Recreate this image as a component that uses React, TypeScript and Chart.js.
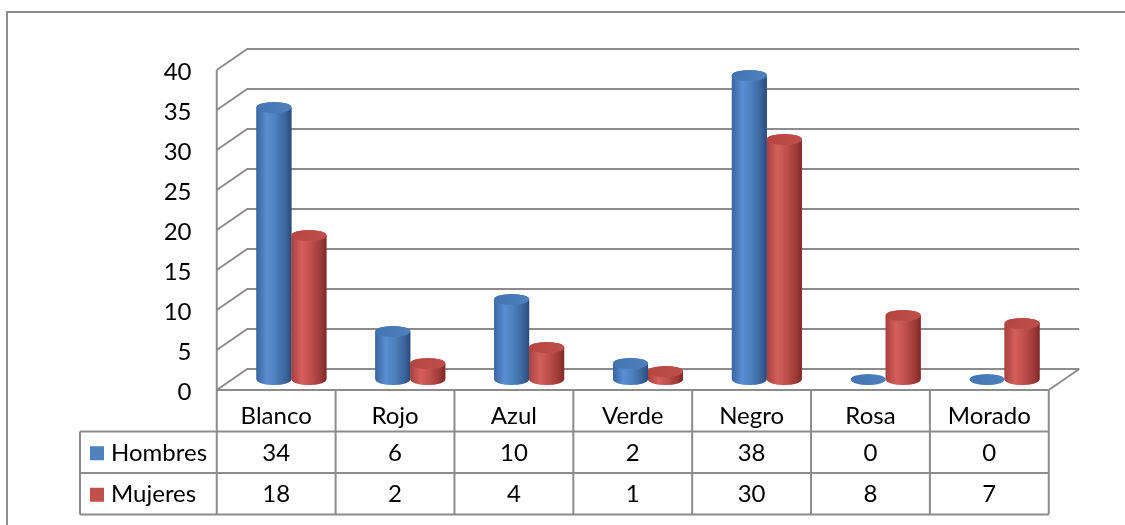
import React, { useEffect, useRef } from "react";
import { Chart, registerables } from "chart.js";

Chart.register(...registerables);

const categories = ["Blanco", "Rojo", "Azul", "Verde", "Negro", "Rosa", "Morado"];
const hombres = [34, 6, 10, 2, 38, 0, 0];
const mujeres = [18, 2, 4, 1, 30, 8, 7];
const seriesNames = ["Hombres", "Mujeres"];
const seriesColors = ["#4F81BD", "#C0504D"];
const yMin = 0;
const yMax = 40;
const yStep = 5;

const W = 1125;
const H = 525;
const DX = 15.25; // half depth offset (x)
const DY = 10.5; // half depth offset (y)
const FONT = "Lato, 'Open Sans', sans-serif";
const FSIZE = 24;
const LINE = "#8c8c8c";

const gradStops: Record<string, [number, string][]> = {
  "#4F81BD": [
    [0, "#3A66A2"],
    [0.3, "#5B8ED1"],
    [0.55, "#4D80BE"],
    [0.85, "#3A6299"],
    [1, "#2A4A7C"],
  ],
  "#C0504D": [
    [0, "#A7413E"],
    [0.3, "#D45F5B"],
    [0.55, "#C0504D"],
    [0.85, "#9B3936"],
    [1, "#7C2B29"],
  ],
};
const topColors: Record<string, string> = {
  "#4F81BD": "#4274B3",
  "#C0504D": "#B7433F",
};

function drawCylinder(ctx: CanvasRenderingContext2D, x: number, top: number, base: number, w: number, color: string) {
  const rx = w / 2;
  const ry = 5.5;
  const l = x - rx;
  const r = x + rx;
  if (base - top > 0.5) {
    const g = ctx.createLinearGradient(l, 0, r, 0);
    for (const [o, c] of gradStops[color]) g.addColorStop(o, c);
    ctx.beginPath();
    ctx.moveTo(l, top);
    ctx.lineTo(l, base);
    ctx.ellipse(x, base, rx, ry, 0, Math.PI, 0, true);
    ctx.lineTo(r, top);
    ctx.ellipse(x, top, rx, ry, 0, 0, Math.PI, true);
    ctx.closePath();
    ctx.fillStyle = g;
    ctx.fill();
  }
  const tg = ctx.createLinearGradient(l, top - ry, r, top + ry);
  tg.addColorStop(0, topColors[color]);
  tg.addColorStop(1, color);
  ctx.beginPath();
  ctx.ellipse(x, top, rx, ry, 0, 0, Math.PI * 2);
  ctx.fillStyle = tg;
  ctx.fill();
}

const wallsPlugin = {
  id: "walls3d",
  beforeDatasetsDraw(chart: any) {
    const ctx: CanvasRenderingContext2D = chart.ctx;
    const ys = chart.scales.y;
    const { left, right } = chart.chartArea;
    ctx.save();
    ctx.strokeStyle = LINE;
    ctx.lineWidth = 2;
    ctx.lineCap = "butt";
    for (let v = yMin; v <= yMax; v += yStep) {
      const p = ys.getPixelForValue(v);
      ctx.beginPath();
      ctx.moveTo(left - DX, p + DY);
      ctx.lineTo(left + DX, p - DY);
      ctx.lineTo(right + DX, p - DY);
      ctx.stroke();
    }
    const pTop = ys.getPixelForValue(yMax);
    const p0 = ys.getPixelForValue(yMin);
    ctx.beginPath();
    ctx.moveTo(left - DX, pTop + DY);
    ctx.lineTo(left - DX, p0 + DY);
    ctx.stroke();
    ctx.beginPath();
    ctx.moveTo(right - DX, p0 + DY);
    ctx.lineTo(right + DX, p0 - DY);
    ctx.stroke();
    ctx.restore();
  },
  afterDatasetsDraw(chart: any) {
    const ctx: CanvasRenderingContext2D = chart.ctx;
    ctx.save();
    chart.data.datasets.forEach((ds: any, di: number) => {
      const meta = chart.getDatasetMeta(di);
      meta.data.forEach((el: any) => {
        const { x, y, base, width } = el.getProps(["x", "y", "base", "width"], true);
        drawCylinder(ctx, x, y, base, width, ds.backgroundColor);
      });
    });
    ctx.restore();
  },
  afterDraw(chart: any) {
    const ctx: CanvasRenderingContext2D = chart.ctx;
    const xs = chart.scales.x;
    const ys = chart.scales.y;
    const { left, right } = chart.chartArea;
    const fl = left - DX;
    const fr = right - DX;
    const binW = xs.getPixelForValue(1) - xs.getPixelForValue(0);
    const tTop = ys.getPixelForValue(0) + DY;
    const rowH = 41.5;
    const r1 = tTop + rowH;
    const r2 = r1 + rowH;
    const r3 = r2 + rowH;
    const legLeft = 80;
    ctx.save();
    ctx.strokeStyle = LINE;
    ctx.lineWidth = 2;
    ctx.beginPath();
    ctx.moveTo(fl, tTop);
    ctx.lineTo(fr, tTop);
    [r1, r2, r3].forEach((yy) => {
      ctx.moveTo(legLeft, yy);
      ctx.lineTo(fr, yy);
    });
    for (let i = 0; i <= categories.length; i++) {
      const xx = fl + i * binW;
      ctx.moveTo(xx, tTop);
      ctx.lineTo(xx, r3);
    }
    ctx.moveTo(legLeft, r1);
    ctx.lineTo(legLeft, r3);
    ctx.stroke();

    ctx.fillStyle = "#000";
    ctx.font = `${FSIZE}px ${FONT}`;
    ctx.textAlign = "center";
    ctx.textBaseline = "middle";
    const rowsData = [hombres, mujeres];
    chart.data.labels.forEach((lab: string, i: number) => {
      const cx = xs.getPixelForValue(i) - DX;
      ctx.fillText(lab, cx, tTop + rowH / 2 + 6);
      rowsData.forEach((arr, ri) => {
        ctx.fillText(String(arr[i]), cx, r1 + ri * rowH + rowH / 2 + 1);
      });
    });
    ctx.textAlign = "left";
    seriesNames.forEach((name, ri) => {
      const cy = r1 + ri * rowH + rowH / 2 + 1;
      ctx.fillStyle = seriesColors[ri];
      ctx.fillRect(legLeft + 10, cy - 7, 14, 14);
      ctx.fillStyle = "#000";
      ctx.fillText(name, legLeft + 31, cy);
    });
    ctx.strokeStyle = LINE;
    ctx.lineWidth = 2;
    ctx.strokeRect(7, 12, W, H);
    ctx.restore();
  },
};

export default function App() {
  const ref = useRef<HTMLCanvasElement | null>(null);
  useEffect(() => {
    if (!ref.current) return;
    const chart = new Chart(ref.current, {
      type: "bar",
      data: {
        labels: categories,
        datasets: [
          { label: seriesNames[0], data: hombres, backgroundColor: seriesColors[0], borderWidth: 0 },
          { label: seriesNames[1], data: mujeres, backgroundColor: seriesColors[1], borderWidth: 0 },
        ],
      },
      options: {
        responsive: false,
        animation: false,
        layout: { padding: { left: 0, right: 61, top: 59.5, bottom: 145.5 } },
        datasets: { bar: { barPercentage: 1, categoryPercentage: 0.589 } },
        plugins: { legend: { display: false }, tooltip: { enabled: false }, title: { display: false } },
        scales: {
          x: { display: false, type: "category" },
          y: {
            type: "linear",
            min: yMin,
            max: yMax,
            grid: { display: false, drawTicks: false },
            border: { display: false },
            ticks: {
              stepSize: yStep,
              padding: 40.5,
              labelOffset: 13,
              color: "#000",
              font: { family: FONT, size: FSIZE },
            },
            afterFit: (s: any) => {
              s.width = 232;
            },
          },
        },
      },
      plugins: [wallsPlugin],
    });
    return () => chart.destroy();
  }, []);
  return (
    <div style={{ position: "absolute", left: 0, top: 0, width: W, height: H, background: "#fff" }}>
      <canvas ref={ref} width={W} height={H} style={{ display: "block" }} />
    </div>
  );
}
